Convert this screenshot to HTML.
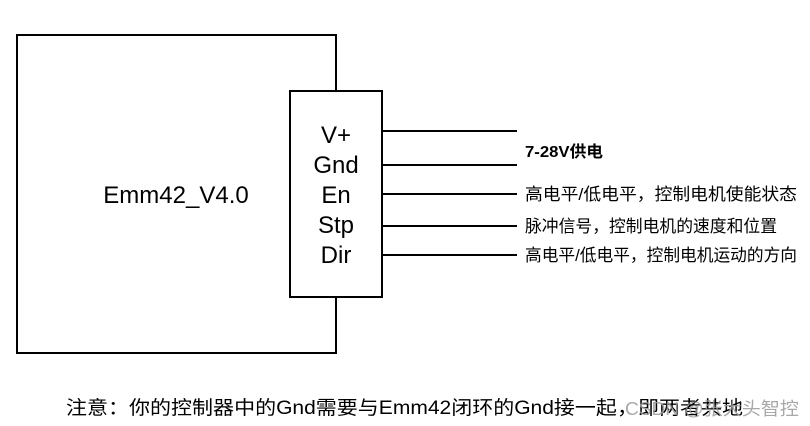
<!DOCTYPE html>
<html><head><meta charset="utf-8"><style>
body{margin:0;background:#fff}
</style></head><body>
<svg width="810" height="426" xmlns="http://www.w3.org/2000/svg" style="display:block">
<rect width="810" height="426" fill="#fff"/>
<g stroke="#000" stroke-width="2" fill="none">
<rect x="17" y="35" width="319" height="318" fill="#fff"/>
<rect x="290" y="91" width="92" height="206" fill="#fff"/>
<line x1="382" y1="131" x2="517" y2="131"/>
<line x1="382" y1="165" x2="517" y2="165"/>
<line x1="382" y1="194" x2="517" y2="194"/>
<line x1="382" y1="226" x2="517" y2="226"/>
<line x1="382" y1="255" x2="517" y2="255"/>
</g>
<g font-family="Liberation Sans, sans-serif" font-size="24" fill="#000" text-anchor="middle">
<text x="176" y="203">Emm42_V4.0</text>
<text x="336" y="143">V+</text>
<text x="336" y="173">Gnd</text>
<text x="336" y="203">En</text>
<text x="336" y="233">Stp</text>
<text x="336" y="263">Dir</text>
</g>
<g font-family="Liberation Sans, Noto Sans CJK SC, sans-serif" font-size="17" fill="#000">
<text x="525" y="157" font-weight="bold" font-size="16" textLength="78" lengthAdjust="spacingAndGlyphs">7-28V供电</text>
<text x="525" y="200" textLength="272" lengthAdjust="spacingAndGlyphs">高电平/低电平，控制电机使能状态</text>
<text x="525" y="232" textLength="252" lengthAdjust="spacingAndGlyphs">脉冲信号，控制电机的速度和位置</text>
<text x="525" y="261" textLength="272" lengthAdjust="spacingAndGlyphs">高电平/低电平，控制电机运动的方向</text>
</g>
<text x="66" y="414" font-family="Liberation Sans, Noto Sans CJK SC, sans-serif" font-size="19" fill="#000" textLength="677" lengthAdjust="spacingAndGlyphs">注意：你的控制器中的Gnd需要与Emm42闭环的Gnd接一起，即两者共地</text>
<text x="625" y="415" font-family="Liberation Sans, Noto Sans CJK SC, sans-serif" font-size="18" fill="#9a9a9a" opacity="0.85" textLength="174" lengthAdjust="spacingAndGlyphs">CSDN @张大头智控</text>
</svg>
</body></html>
